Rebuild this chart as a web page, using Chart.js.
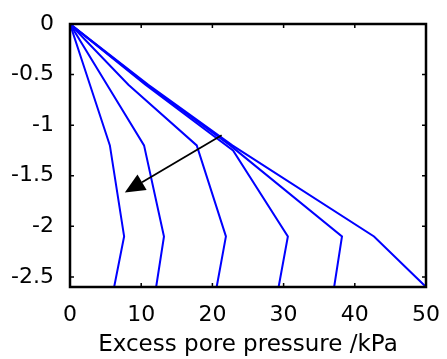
<!DOCTYPE html>
<html>
<head>
<meta charset="utf-8">
<script src="https://cdn.jsdelivr.net/npm/chart.js@4.4.0/dist/chart.umd.min.js"></script>
<style>
  html, body { margin: 0; padding: 0; background: #fff; }
  #wrap { width: 447px; height: 359px; }
</style>
</head>
<body>
<div id="wrap"><canvas id="chart" width="447" height="359"></canvas></div>
<script>
// depth below surface (m) for each computed point
const depths = [0, -0.6, -1.2, -2.1, -2.6];
const depthsLate = [0, -0.6, -1.25, -2.1, -2.6];

// excess pore pressure (kPa) for successive time steps
const pp1 = [0, 2.8, 5.6, 7.6, 6.2];
const pp2 = [0, 5.2, 10.4, 13.2, 12.1];
const pp3 = [0, 8.2, 17.8, 21.9, 20.6];
const pp4 = [0, 10.6, 22.9, 30.6, 29.3];
const pp5 = [0, 10.8, 22.5, 38.2, 37.1];
const pp6 = [0, 11.0, 22.8, 42.7, 50];

const xTicks = [0, 10, 20, 30, 40, 50];
const yTicks = [0, -0.5, -1, -1.5, -2, -2.5];

// arrow showing direction of dissipation (data units)
const arrowFrom = [21.3, -1.1];
const arrowTo = [7.7, -1.665];

const toPts = (xs, ys) => xs.map((x, i) => ({ x: x, y: ys[i] }));

const curves = [
  toPts(pp1, depths),
  toPts(pp2, depths),
  toPts(pp3, depths),
  toPts(pp4, depthsLate),
  toPts(pp5, depths),
  toPts(pp6, depths),
];

const FONT = "'DejaVu Sans', sans-serif";

// box round the axes with inward ticks on all four sides
const boxPlugin = {
  id: 'box',
  afterDraw(chart) {
    const { ctx, chartArea: a, scales } = chart;
    ctx.save();
    ctx.strokeStyle = '#000';
    ctx.lineWidth = 1.5;
    ctx.beginPath();
    const tl = 4;
    xTicks.forEach(v => {
      const px = scales.x.getPixelForValue(v);
      ctx.moveTo(px, a.bottom); ctx.lineTo(px, a.bottom - tl);
      ctx.moveTo(px, a.top); ctx.lineTo(px, a.top + tl);
    });
    yTicks.forEach(v => {
      const py = scales.y.getPixelForValue(v);
      ctx.moveTo(a.left, py); ctx.lineTo(a.left + tl, py);
      ctx.moveTo(a.right, py); ctx.lineTo(a.right - tl, py);
    });
    ctx.stroke();
    ctx.lineWidth = 2.5;
    ctx.strokeRect(a.left, a.top, a.right - a.left, a.bottom - a.top);
    ctx.restore();
  }
};

const arrowPlugin = {
  id: 'arrow',
  afterDatasetsDraw(chart) {
    const { ctx, scales } = chart;
    const x0 = scales.x.getPixelForValue(arrowFrom[0]);
    const y0 = scales.y.getPixelForValue(arrowFrom[1]);
    const x1 = scales.x.getPixelForValue(arrowTo[0]);
    const y1 = scales.y.getPixelForValue(arrowTo[1]);
    const ang = Math.atan2(y1 - y0, x1 - x0);
    const hl = 20, hw = 9;
    const bx = x1 - hl * Math.cos(ang), by = y1 - hl * Math.sin(ang);
    ctx.save();
    ctx.strokeStyle = '#000';
    ctx.fillStyle = '#000';
    ctx.lineWidth = 1.8;
    ctx.beginPath();
    ctx.moveTo(x0, y0);
    ctx.lineTo(bx, by);
    ctx.stroke();
    ctx.beginPath();
    ctx.moveTo(x1, y1);
    ctx.lineTo(bx + hw * Math.sin(ang), by - hw * Math.cos(ang));
    ctx.lineTo(bx - hw * Math.sin(ang), by + hw * Math.cos(ang));
    ctx.closePath();
    ctx.fill();
    ctx.restore();
  }
};

new Chart(document.getElementById('chart'), {
  type: 'scatter',
  data: {
    datasets: curves.map(c => ({
      data: c,
      showLine: true,
      borderColor: '#0000ff',
      borderWidth: 2,
      pointRadius: 0,
      tension: 0,
      fill: false,
    })),
  },
  options: {
    responsive: false,
    animation: false,
    layout: { padding: { left: 0, right: 21, top: 24, bottom: 0 } },
    plugins: {
      legend: { display: false },
      tooltip: { enabled: false },
    },
    scales: {
      x: {
        type: 'linear',
        min: 0,
        max: 50,
        afterBuildTicks: s => { s.ticks = xTicks.map(v => ({ value: v })); },
        afterFit: s => { s.height = 72; },
        grid: { display: false },
        border: { display: false },
        ticks: {
          color: '#000',
          padding: 7,
          maxRotation: 0,
          font: { family: FONT, size: 22 },
        },
        title: {
          display: true,
          text: 'Excess pore pressure /kPa',
          color: '#000',
          padding: { top: 0, bottom: 0 },
          font: { family: FONT, size: 23 },
        },
      },
      y: {
        type: 'linear',
        min: -2.6,
        max: 0,
        afterBuildTicks: s => { s.ticks = yTicks.map(v => ({ value: v })); },
        afterFit: s => { s.width = 70; },
        grid: { display: false },
        border: { display: false },
        ticks: {
          color: '#000',
          padding: 8,
          font: { family: FONT, size: 22 },
          callback: v => String(v),
        },
      },
    },
  },
  plugins: [boxPlugin, arrowPlugin],
});
</script>
</body>
</html>
